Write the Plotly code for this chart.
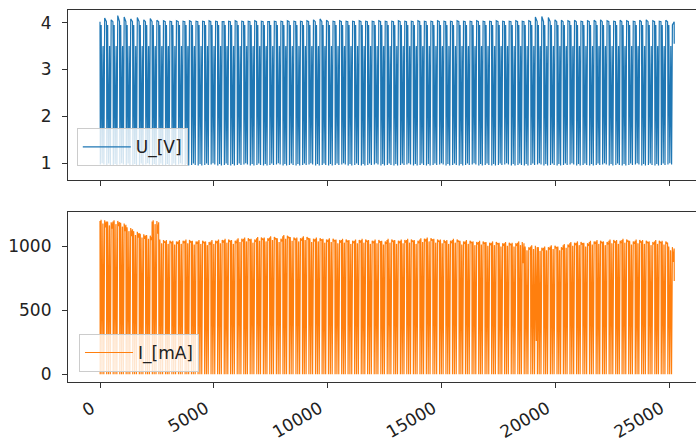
import plotly.graph_objects as go
from plotly.subplots import make_subplots

# ---- data (per charge/discharge cycle) ----
cycle_start = [0, 285, 570, 860, 1140, 1430, 1720, 2000, 2290, 2580, 2870, 3150, 3440, 3730,
               4010, 4300, 4590, 4870, 5160, 5450, 5730, 6020, 6310, 6590, 6880, 7170, 7450,
               7740, 8030, 8310, 8600, 8890, 9170, 9460, 9750, 10030, 10320, 10610, 10890,
               11180, 11470, 11750, 12040, 12330, 12610, 12900, 13190, 13470, 13760, 14050,
               14330, 14620, 14910, 15190, 15480, 15770, 16050, 16340, 16630, 16910, 17200,
               17490, 17770, 18060, 18350, 18630, 18920, 19210, 19490, 19780, 20070, 20350,
               20640, 20930, 21210, 21500, 21790, 22070, 22360, 22650, 22930, 23220, 23510,
               23790, 24080, 24370, 24650, 24940]
last_index = 25230

u_peak = [4.10, 4.06, 4.15, 4.12, 4.08, 4.11, 4.06, 4.09, 4.05, 4.04, 4.03, 4.04, 4.03, 4.04,
          4.03, 4.03, 4.04, 4.03, 4.02, 4.03, 4.04, 4.03, 4.03, 4.04, 4.03, 4.02, 4.03, 4.03,
          4.04, 4.03, 4.03, 4.04, 4.06, 4.08, 4.05, 4.03, 4.04, 4.03, 4.03, 4.04, 4.03, 4.03,
          4.04, 4.03, 4.03, 4.04, 4.03, 4.03, 4.04, 4.03, 4.03, 4.04, 4.03, 4.03, 4.04, 4.03,
          4.03, 4.04, 4.03, 4.03, 4.04, 4.03, 4.03, 4.04, 4.03, 4.04, 4.12, 4.13, 4.11, 4.06,
          4.05, 4.04, 4.05, 4.03, 4.04, 4.05, 4.06, 4.04, 4.03, 4.05, 4.04, 4.03, 4.05, 4.06,
          4.04, 4.03, 4.05, 3.95]
u_min = [0.97, 0.96, 0.95, 0.97, 0.96, 0.95, 0.96, 0.97, 0.95, 0.96, 0.95, 0.96, 0.97, 0.95,
         0.96, 0.95, 0.96, 0.97, 0.95, 0.96, 0.95, 0.96, 0.97, 0.95, 0.96, 0.95, 0.96, 0.97,
         0.95, 0.96, 0.95, 0.96, 0.97, 0.95, 0.96, 0.95, 0.96, 0.97, 0.95, 0.96, 0.95, 0.96,
         0.97, 0.95, 0.96, 0.95, 0.96, 0.97, 0.95, 0.96, 0.95, 0.96, 0.97, 0.95, 0.96, 0.95,
         0.96, 0.97, 0.95, 0.96, 0.95, 0.96, 0.97, 0.95, 0.96, 0.95, 0.96, 0.97, 0.95, 0.96,
         0.95, 0.96, 0.97, 0.95, 0.96, 0.95, 0.96, 0.97, 0.95, 0.96, 0.95, 0.96, 0.97, 0.95,
         0.96, 0.95, 0.96, 0.97]

i_peak = [1210, 1195, 1205, 1185, 1150, 1120, 1100, 1090, 1205, 1055, 1050, 1045, 1050, 1055,
          1045, 1050, 1040, 1050, 1055, 1060, 1050, 1065, 1070, 1060, 1075, 1070, 1080, 1065,
          1090, 1075, 1070, 1080, 1065, 1070, 1060, 1065, 1055, 1060, 1050, 1055, 1060, 1050,
          1055, 1045, 1060, 1050, 1055, 1060, 1050, 1065, 1070, 1060, 1055, 1050, 1060, 1045,
          1050, 1040, 1045, 1035, 1040, 1030, 1035, 1030, 1040, 1000, 1010, 995, 1000, 1010,
          1000, 1020, 1035, 1040, 1030, 1045, 1050, 1040, 1055, 1050, 1060, 1045, 1055, 1050,
          1040, 1050, 1045, 1000]
i_sag = [1150, 1140, 1160, 1120, 1080, 1070, 1060, 1050, 1100, 1030, 1030, 1025, 1030, 1035,
         1025, 1030, 1020, 1030, 1035, 1040, 1030, 1045, 1050, 1040, 1055, 1050, 1060, 1045,
         1070, 1055, 1050, 1060, 1045, 1050, 1040, 1045, 1035, 1040, 1030, 1035, 1040, 1030,
         1035, 1025, 1040, 1030, 1035, 1040, 1030, 1045, 1050, 1040, 1035, 1030, 1040, 1025,
         1030, 1020, 1025, 1015, 1020, 1010, 1015, 1010, 870, 980, 260, 975, 980, 990,
         980, 1000, 1015, 1020, 1010, 1025, 1030, 1020, 1035, 1030, 1040, 1025, 1035, 1030,
         1020, 1030, 1025, 880]

# shape of one cycle as seen in the picture: (fraction of cycle) -> level
u_phase = [0.00, 0.02, 0.05, 0.18, 0.20, 0.33, 0.46, 0.48, 0.60, 0.72, 0.99]
i_phase = [0.00, 0.03, 0.16, 0.18, 0.31, 0.44, 0.46, 0.59, 0.72, 0.86, 0.99]

x_ticks = [0, 5000, 10000, 15000, 20000, 25000]
u_ticks = [1, 2, 3, 4]
i_ticks = [0, 500, 1000]

# ---- assemble the series ----
ends = cycle_start[1:] + [last_index]
ux, uy, ix, iy = [], [], [], []
for k, (s, e) in enumerate(zip(cycle_start, ends)):
    d = e - s
    pk, mn = u_peak[k], u_min[k]
    ulev = [4.02, 3.50, mn, 3.95, 3.55, mn + 0.03, 3.45, 3.50, mn, pk, 4.02]
    for p, v in zip(u_phase, ulev):
        ux.append(s + p * d); uy.append(v)
    ip, isg = i_peak[k], i_sag[k]
    ilev = [ip - 10, 0, ip, ip - 15, 0, ip - 30, ip - 35, 0, ip - 5, isg, ip - 15]
    for p, v in zip(i_phase, ilev):
        ix.append(s + p * d); iy.append(v)
ux.append(last_index); uy.append(u_peak[-1] - 0.4)
ix.append(last_index); iy.append(i_sag[-1] - 150)

fig = make_subplots(rows=2, cols=1, shared_xaxes=False)
fig.add_trace(go.Scatter(x=ux, y=uy, mode="lines", name="U_[V]",
                         line=dict(color="#1f77b4", width=1.2), legend="legend"), row=1, col=1)
fig.add_trace(go.Scatter(x=ix, y=iy, mode="lines", name="I_[mA]",
                         line=dict(color="#ff7f0e", width=1.2), legend="legend2"), row=2, col=1)

axcol = "#333333"
tf = dict(size=17, color="#222")
xr = [-1406, 26186]
common_x = dict(range=xr, showgrid=False, zeroline=False, showline=True, linecolor=axcol,
                linewidth=1.2, mirror=True, ticks="outside", ticklen=5, tickcolor=axcol,
                tickvals=x_ticks, automargin=False, domain=[0, 1])
common_y = dict(showgrid=False, zeroline=False, showline=True, linecolor=axcol, linewidth=1.2,
                mirror=False, ticks="outside", ticklen=5, tickcolor=axcol, tickfont=tf,
                automargin=False, ticklabelstandoff=7)
leg = dict(xanchor="left", yanchor="bottom", bgcolor="rgba(255,255,255,0.8)",
           bordercolor="#cccccc", borderwidth=1, font=dict(size=17), itemwidth=48)
fig.update_layout(
    xaxis=dict(**common_x, showticklabels=False),
    xaxis2=dict(**common_x, ticktext=[str(v) for v in x_ticks], tickangle=-30, tickfont=tf,
                ticklabelstandoff=4, ticklabelshift=-8),
    yaxis=dict(**common_y, range=[0.64, 4.27], domain=[0.543, 1.0], tickvals=u_ticks),
    yaxis2=dict(**common_y, range=[-60, 1270], domain=[0.0, 0.457], tickvals=i_ticks),
    width=696, height=441,
    margin=dict(l=68, r=0, t=10, b=59),
    paper_bgcolor="white", plot_bgcolor="white",
    font=dict(family="DejaVu Sans", color="#222"),
    legend=dict(**leg, x=0.014, y=0.58),
    legend2=dict(**leg, x=0.0175, y=0.027),
    showlegend=True,
)
fig.write_html("out.html", config={"displayModeBar": False},
               post_script="document.body.style.margin='0';"
                           "document.body.style.overflow='hidden';")
